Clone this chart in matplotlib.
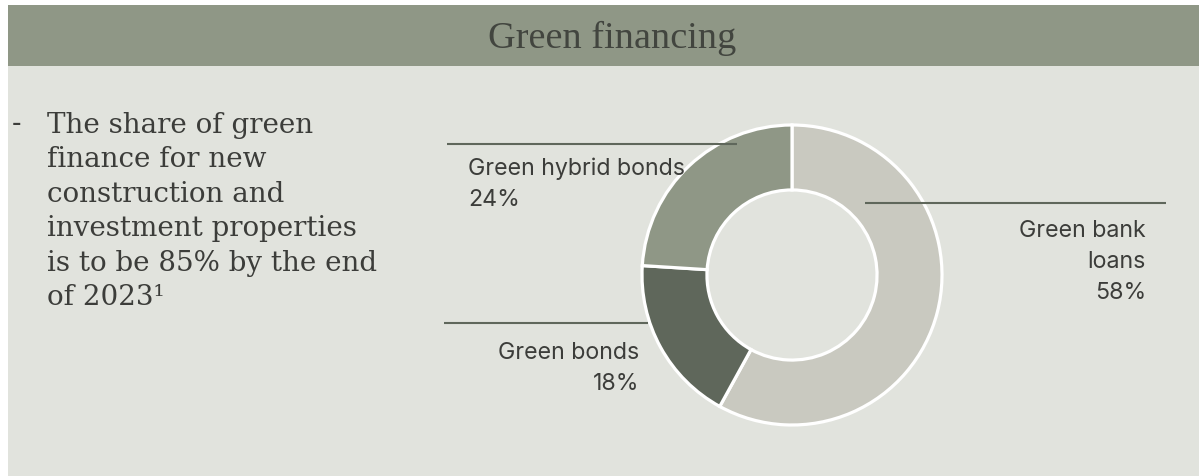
import matplotlib.pyplot as plt
from matplotlib.patches import Rectangle

W, H = 1199, 476

title = "Green financing"
bullet_lines = ["The share of green", "finance for new", "construction and",
                "investment properties", "is to be 85% by the end",
                "of 2023\u00b9"]

categories = ["Green bank\nloans", "Green bonds", "Green hybrid bonds"]
shares = [58, 18, 24]
colors = ["#c9c9c0", "#5f675b", "#8f9786"]

bg = "#e1e3dd"
band = "#8f9786"
ink = "#3c3d3a"

fig = plt.figure(figsize=(W / 100, H / 100), dpi=100)
fig.patch.set_facecolor("white")

# background layer in pixel coords
back = fig.add_axes([0, 0, 1, 1], zorder=0)
back.set_xlim(0, W)
back.set_ylim(H, 0)
back.axis("off")
back.add_patch(Rectangle((8, 5), W - 8, H - 5, color=bg, lw=0))
back.add_patch(Rectangle((8, 5), W - 8, 61, color=band, lw=0))

# donut
cx, cy, r = 792, 275, 150
pie_ax = fig.add_axes([(cx - r) / W, (H - cy - r) / H, 2 * r / W, 2 * r / H],
                      zorder=1)
wedges, _ = pie_ax.pie(shares, colors=colors, startangle=90, counterclock=False,
                       radius=1, wedgeprops=dict(width=0.433, edgecolor="white",
                                                 linewidth=2.3))
for w in wedges:
    w.set_clip_on(False)
pie_ax.set_xlim(-1, 1)
pie_ax.set_ylim(-1, 1)
pie_ax.set_aspect("equal")
pie_ax.axis("off")

# overlay: text and leader lines
ax = fig.add_axes([0, 0, 1, 1], zorder=2)
ax.set_xlim(0, W)
ax.set_ylim(H, 0)
ax.axis("off")
ax.patch.set_alpha(0)

ax.text(612, 48, title, ha="center", va="baseline", color="#42453f",
        fontsize=27.5, family="Liberation Serif")

ax.text(12, 131, "-", ha="left", va="baseline", color=ink,
        fontsize=20, family="DejaVu Serif")
for i, line in enumerate(bullet_lines):
    ax.text(47, 133 + i * 34.4, line, ha="left", va="baseline", color=ink,
            fontsize=20, family="DejaVu Serif")

line_col = "#5f675b"
# (x0, x1, y) leader, text anchor x, first baseline, alignment
layout = {
    "Green bank\nloans": ((865, 1166, 203), 1146, 237, "right"),
    "Green bonds": ((444, 648, 323), 639, 359, "right"),
    "Green hybrid bonds": ((447, 737, 144), 468, 175, "left"),
}
for cat, val in zip(categories, shares):
    (x0, x1, ly), tx, ty, ha = layout[cat]
    ax.plot([x0, x1], [ly, ly], color=line_col, lw=1.5, solid_capstyle="butt")
    lines = cat.split("\n") + [f"{val}%"]
    for j, t in enumerate(lines):
        ax.text(tx, ty + j * 31, t, ha=ha, va="baseline", color=ink,
                fontsize=16.7, family="Inter")

fig.savefig("out.png", dpi=100, facecolor=fig.get_facecolor())
